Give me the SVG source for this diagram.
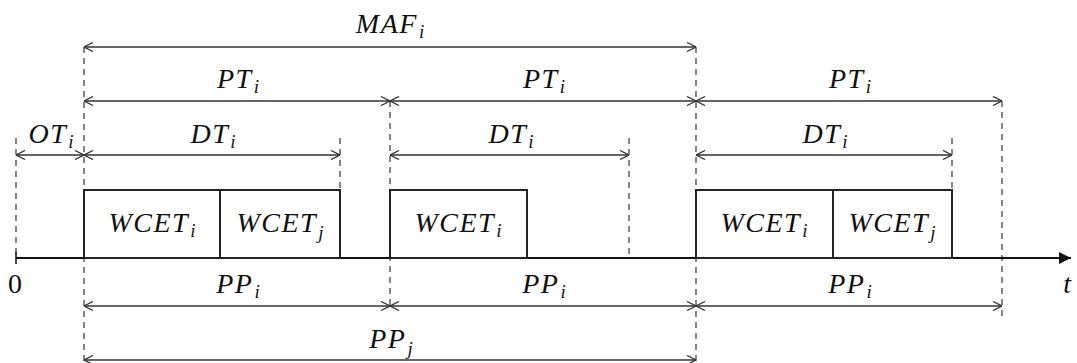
<svg xmlns="http://www.w3.org/2000/svg" width="1077" height="363" viewBox="0 0 1077 363">
<style>
.t{font-family:"Liberation Serif","DejaVu Serif",serif;font-style:italic;font-size:28px;letter-spacing:1.5px;fill:#111;text-anchor:middle}
.n{font-family:"Liberation Serif","DejaVu Serif",serif;font-size:28px;fill:#111;text-anchor:middle}
.s{font-size:19px;letter-spacing:0}
.d{stroke:#444;stroke-width:1.3;stroke-dasharray:6,5;fill:none}
.a{stroke:#333;stroke-width:1.4;fill:none;marker-start:url(#o);marker-end:url(#o)}
.b{stroke:#222;stroke-width:2;fill:#fff}
</style>
<defs>
<marker id="o" viewBox="0 0 10 10" refX="10" refY="5" markerWidth="10" markerHeight="10" markerUnits="userSpaceOnUse" orient="auto-start-reverse">
<path d="M1,0.5 L10,5 L1,9.5" fill="none" stroke="#333" stroke-width="1.3"/>
</marker>
<marker id="f" viewBox="0 0 12 12" refX="12" refY="6" markerWidth="12" markerHeight="12" markerUnits="userSpaceOnUse" orient="auto">
<path d="M0,0 L12,6 L0,12 Z" fill="#111"/>
</marker>
</defs>
<g id="guides">
<line class="d" x1="16" y1="138" x2="16" y2="258"/>
<line class="d" x1="84" y1="47" x2="84" y2="361"/>
<line class="d" x1="340" y1="138" x2="340" y2="258"/>
<line class="d" x1="390" y1="101" x2="390" y2="306"/>
<line class="d" x1="629" y1="138" x2="629" y2="258"/>
<line class="d" x1="696" y1="47" x2="696" y2="361"/>
<line class="d" x1="952" y1="138" x2="952" y2="258"/>
<line class="d" x1="1002" y1="101" x2="1002" y2="318"/>
</g>
<g id="axis">
<line x1="16" y1="258" x2="1071" y2="258" stroke="#111" stroke-width="2" marker-end="url(#f)"/>
<line x1="16" y1="252" x2="16" y2="264" stroke="#111" stroke-width="1.5"/>
<text class="n" x="15" y="293">0</text>
<text class="t" x="1068" y="293">t</text>
</g>
<g id="task1">
<rect class="b" x="84" y="190" width="136" height="68"/>
<text class="t" x="152" y="232">WCET<tspan class="s" dx="1" dy="5">i</tspan></text>
</g>
<g id="task2">
<rect class="b" x="220" y="190" width="120" height="68"/>
<text class="t" x="280" y="232">WCET<tspan class="s" dx="1" dy="7">j</tspan></text>
</g>
<g id="task3">
<rect class="b" x="390" y="190" width="137" height="68"/>
<text class="t" x="458" y="232">WCET<tspan class="s" dx="1" dy="5">i</tspan></text>
</g>
<g id="task4">
<rect class="b" x="696" y="190" width="137" height="68"/>
<text class="t" x="764" y="232">WCET<tspan class="s" dx="1" dy="5">i</tspan></text>
</g>
<g id="task5">
<rect class="b" x="833" y="190" width="119" height="68"/>
<text class="t" x="892" y="232">WCET<tspan class="s" dx="1" dy="7">j</tspan></text>
</g>
<g id="connectors">
<line class="a" x1="84" y1="47" x2="696" y2="47"/>
<line class="a" x1="84" y1="101" x2="390" y2="101"/>
<line class="a" x1="390" y1="101" x2="696" y2="101"/>
<line class="a" x1="696" y1="101" x2="1002" y2="101"/>
<line class="a" x1="16" y1="155" x2="84" y2="155"/>
<line class="a" x1="84" y1="155" x2="340" y2="155"/>
<line class="a" x1="390" y1="155" x2="629" y2="155"/>
<line class="a" x1="696" y1="155" x2="952" y2="155"/>
<line class="a" x1="84" y1="306" x2="390" y2="306"/>
<line class="a" x1="390" y1="306" x2="696" y2="306"/>
<line class="a" x1="696" y1="306" x2="1002" y2="306"/>
<line class="a" x1="84" y1="360" x2="696" y2="360"/>
</g>
<g id="labels">
<text class="t" x="390" y="33">MAF<tspan class="s" dx="1" dy="5">i</tspan></text>
<text class="t" x="238" y="88">PT<tspan class="s" dx="1" dy="5">i</tspan></text>
<text class="t" x="544" y="88">PT<tspan class="s" dx="1" dy="5">i</tspan></text>
<text class="t" x="850" y="88">PT<tspan class="s" dx="1" dy="5">i</tspan></text>
<text class="t" x="51" y="143">OT<tspan class="s" dx="1" dy="5">i</tspan></text>
<text class="t" x="213" y="143">DT<tspan class="s" dx="1" dy="5">i</tspan></text>
<text class="t" x="511" y="143">DT<tspan class="s" dx="1" dy="5">i</tspan></text>
<text class="t" x="825" y="143">DT<tspan class="s" dx="1" dy="5">i</tspan></text>
<text class="t" x="238" y="293">PP<tspan class="s" dx="1" dy="5">i</tspan></text>
<text class="t" x="544" y="293">PP<tspan class="s" dx="1" dy="5">i</tspan></text>
<text class="t" x="850" y="293">PP<tspan class="s" dx="1" dy="5">i</tspan></text>
<text class="t" x="391" y="348">PP<tspan class="s" dx="1" dy="7">j</tspan></text>
</g>
</svg>
